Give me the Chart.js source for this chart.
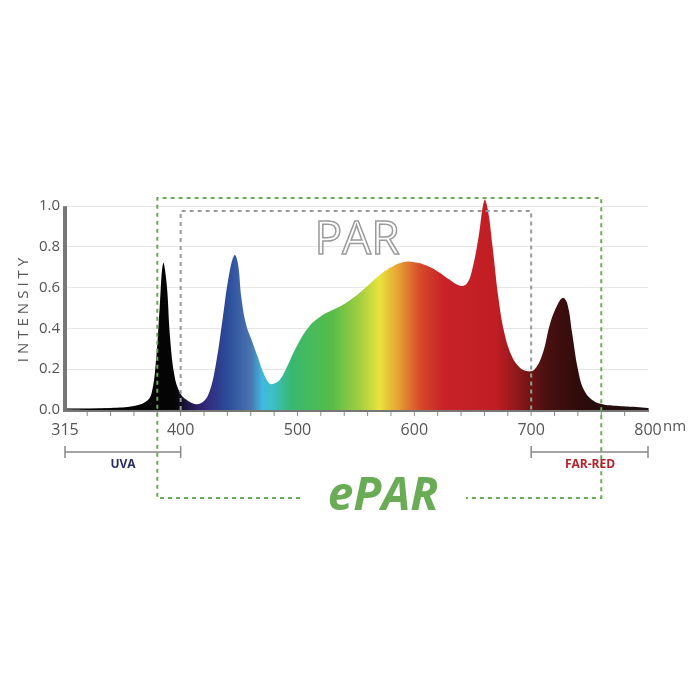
<!DOCTYPE html>
<html>
<head>
<meta charset="utf-8">
<script src="https://cdn.jsdelivr.net/npm/chart.js@4"></script>
<style>
  html, body { margin: 0; padding: 0; background: #fff; }
  #wrap { width: 700px; height: 700px; }
</style>
</head>
<body>
<div id="wrap"><canvas id="spectrum"></canvas></div>
<script>
// spectrum (nm, relative intensity)
const wavelengths = [301, 320, 340, 360, 370, 375, 379, 382, 385, 388, 391, 395, 400, 405, 412, 418, 424, 430, 436, 441, 446, 449, 452, 456, 461, 466, 471, 476, 480, 485, 490, 500, 510, 520, 530, 540, 550, 560, 570, 580, 590, 600, 610, 620, 630, 639, 645, 650, 655, 660, 663, 667, 672, 677, 683, 690, 697, 703, 710, 716, 722, 727, 731, 735, 740, 745, 752, 760, 775, 790, 800];
const intensity = [0.0, 0.005, 0.01, 0.02, 0.04, 0.08, 0.25, 0.5, 0.72, 0.62, 0.35, 0.16, 0.08, 0.05, 0.03, 0.035, 0.08, 0.22, 0.45, 0.65, 0.76, 0.72, 0.55, 0.42, 0.34, 0.26, 0.18, 0.13, 0.13, 0.15, 0.2, 0.32, 0.41, 0.46, 0.49, 0.52, 0.56, 0.61, 0.66, 0.7, 0.725, 0.725, 0.71, 0.68, 0.64, 0.61, 0.62, 0.7, 0.85, 1.03, 0.98, 0.8, 0.55, 0.38, 0.27, 0.21, 0.19, 0.2, 0.28, 0.42, 0.51, 0.55, 0.52, 0.38, 0.2, 0.1, 0.05, 0.03, 0.02, 0.015, 0.01];
const xTicks = [301, 400, 500, 600, 700, 800];
const xTickLabels = ['315', '400', '500', '600', '700', '800'];
const yTicks = [0, 0.2, 0.4, 0.6, 0.8, 1.0];

// colour along the spectrum, by wavelength
const colourStops = [
  [301, '#000000'], [395, '#050505'], [405, '#1c1640'], [420, '#33267a'],
  [440, '#2b4c9a'], [460, '#4a74b0'], [470, '#40b8e0'], [478, '#3cc0c8'],
  [495, '#38b86e'], [530, '#58bc48'], [555, '#a8d040'], [570, '#e8e43a'],
  [585, '#e8a634'], [605, '#d64a2a'], [625, '#c82228'], [670, '#c01e24'],
  [695, '#7c1616'], [712, '#4a1010'], [745, '#2c0b0b'], [800, '#1a1212']
];

function spectrumFill(ctx) {
  const chart = ctx.chart;
  const area = chart.chartArea;
  if (!area) return '#c01e24';
  const x = chart.scales.x;
  const g = chart.ctx.createLinearGradient(area.left, 0, area.right, 0);
  const w = area.right - area.left;
  colourStops.forEach(([nm, c]) => {
    const t = (x.getPixelForValue(nm) - area.left) / w;
    g.addColorStop(Math.min(1, Math.max(0, t)), c);
  });
  return g;
}

const overlay = {
  id: 'overlay',
  beforeDatasetsDraw(chart) {
    // cover the bit of the y axis line above 1.0
    const c = chart.ctx;
    const top = chart.scales.y.getPixelForValue(1);
    c.save();
    c.fillStyle = '#fff';
    c.fillRect(chart.chartArea.left - 4, chart.chartArea.top - 2, 6, top - chart.chartArea.top + 2);
    c.restore();
  },
  afterDraw(chart) {
    const c = chart.ctx;
    const x = chart.scales.x, y = chart.scales.y;
    const px = v => x.getPixelForValue(v);
    const base = y.getPixelForValue(0);
    c.save();

    // minor ticks under the axis
    c.strokeStyle = '#888';
    c.lineWidth = 1;
    for (let nm = 320; nm < 800; nm += 20) {
      c.beginPath();
      c.moveTo(px(nm), base + 2);
      c.lineTo(px(nm), base + 6);
      c.stroke();
    }

    // PAR dotted box
    c.strokeStyle = '#999';
    c.lineWidth = 2;
    c.setLineDash([4, 4]);
    const parTop = 211;
    c.beginPath();
    c.moveTo(px(400), base);
    c.lineTo(px(400), parTop);
    c.lineTo(px(700), parTop);
    c.lineTo(px(700), base);
    c.stroke();

    // ePAR green dashed box
    c.strokeStyle = '#6aab55';
    c.setLineDash([4, 4]);
    const eL = px(380), eR = px(760), eT = 198, eB = 498;
    c.beginPath();
    c.moveTo(300, eB); c.lineTo(eL, eB); c.lineTo(eL, eT);
    c.lineTo(eR, eT); c.lineTo(eR, eB); c.lineTo(466, eB);
    c.stroke();
    c.setLineDash([]);

    // PAR outlined text
    c.font = '46px "Open Sans", sans-serif';
    c.textAlign = 'center';
    c.textBaseline = 'middle';
    c.strokeStyle = '#9a9a9a';
    c.lineWidth = 1.5;
    c.strokeText('PAR', 357, 241);

    // ePAR
    c.font = 'italic bold 46px "Open Sans", sans-serif';
    c.fillStyle = '#6aab55';
    c.fillText('ePAR', 383, 497);

    // UVA and FAR-RED brackets
    c.strokeStyle = '#888';
    c.lineWidth = 1.5;
    const brY = 452;
    [[65, px(400)], [px(700), px(800)]].forEach(([a, b]) => {
      c.beginPath();
      c.moveTo(a, brY); c.lineTo(b, brY);
      c.moveTo(a, brY - 6); c.lineTo(a, brY + 6);
      c.moveTo(b, brY - 6); c.lineTo(b, brY + 6);
      c.stroke();
    });
    c.font = 'bold 12px "Open Sans", sans-serif';
    c.fillStyle = '#2a2a6a';
    c.fillText('UVA', 123, 465);
    c.fillStyle = '#b3232b';
    c.fillText('FAR-RED', 590, 465);

    // nm unit and axis title
    c.font = '15px "Liberation Sans Narrow", "Open Sans", sans-serif';
    c.fillStyle = '#555';
    c.textAlign = 'left';
    c.fillText('nm', px(800) + 15, base + 17);

    c.translate(24, 308);
    c.rotate(-Math.PI / 2);
    c.textAlign = 'center';
    c.font = '15px "Open Sans", sans-serif';
    c.letterSpacing = '4px';
    c.fillText('INTENSITY', 0, 0);
    c.restore();
  }
};

new Chart(document.getElementById('spectrum'), {
  type: 'line',
  data: {
    datasets: [{
      data: wavelengths.map((nm, i) => ({ x: nm, y: intensity[i] })),
      fill: 'origin',
      backgroundColor: spectrumFill,
      borderWidth: 0,
      pointRadius: 0,
      tension: 0.4
    }]
  },
  options: {
    responsive: true,
    maintainAspectRatio: false,
    animation: false,
    elements: { line: { capBezierPoints: false } },
    layout: { padding: { top: 198, right: 52, left: 0, bottom: 0 } },
    plugins: { legend: { display: false }, tooltip: { enabled: false } },
    scales: {
      x: {
        type: 'linear',
        min: 301,
        max: 800,
        afterFit: s => { s.height = 290; },
        afterBuildTicks: s => { s.ticks = xTicks.map(v => ({ value: v })); },
        ticks: {
          callback: v => xTickLabels[xTicks.indexOf(v)],
          color: '#555',
          font: { family: '"Liberation Sans Narrow", "Open Sans", sans-serif', size: 16 },
          padding: 3,
          maxRotation: 0
        },
        grid: { display: false },
        border: { color: '#777', width: 4 }
      },
      y: {
        min: 0,
        max: 1.04,
        afterFit: s => { s.width = 65; },
        afterBuildTicks: s => { s.ticks = yTicks.map(v => ({ value: v })); },
        ticks: {
          callback: v => v.toFixed(1),
          color: '#555',
          font: { family: '"Liberation Sans Narrow", "Open Sans", sans-serif', size: 15 },
          padding: 5
        },
        grid: { color: '#e6e6e6', drawTicks: false },
        border: { color: '#777', width: 4 }
      }
    }
  },
  plugins: [overlay]
});
</script>
</body>
</html>
